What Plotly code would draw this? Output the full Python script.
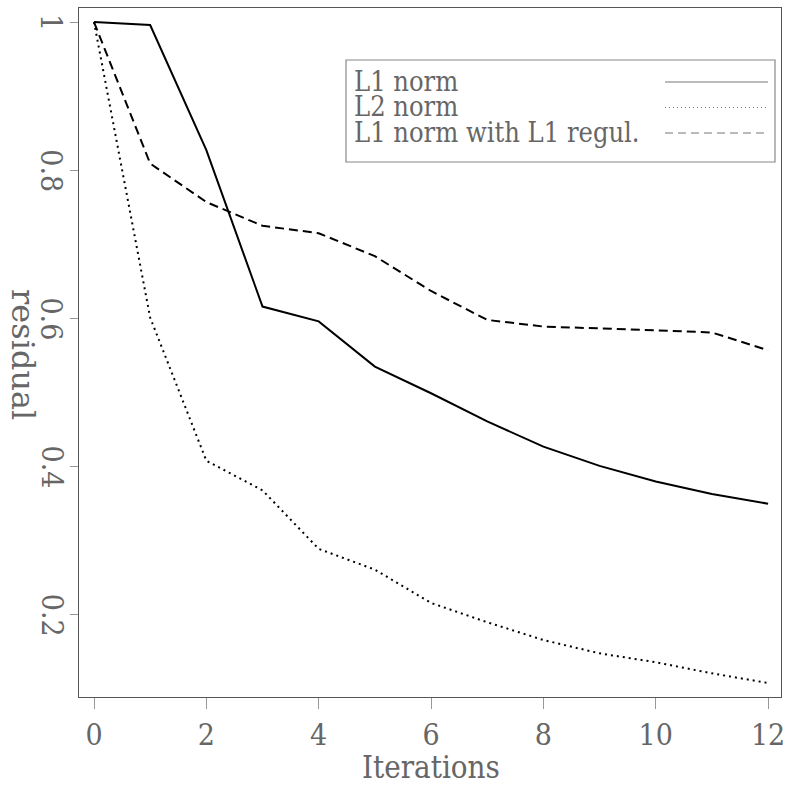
import plotly.graph_objects as go

# Residual per iteration for the three solvers
iterations = list(range(13))
l1_norm = [1.0, 0.996, 0.827, 0.616, 0.596, 0.535, 0.499, 0.461, 0.427, 0.401, 0.380, 0.363, 0.350]
l2_norm = [1.0, 0.601, 0.408, 0.368, 0.289, 0.261, 0.216, 0.190, 0.166, 0.148, 0.136, 0.121, 0.108]
l1_reg = [1.0, 0.809, 0.757, 0.725, 0.715, 0.684, 0.637, 0.598, 0.589, 0.587, 0.584, 0.581, 0.557]

series_names = ["L1 norm", "L2 norm", "L1 norm with L1 regul."]
series_dash = ["solid", "2px,4px", "9px,5px"]
key_dash = ["solid", "1px,3px", "8px,5px"]
x_ticks = [0, 2, 4, 6, 8, 10, 12]
y_ticks = [0.2, 0.4, 0.6, 0.8, 1.0]
y_tick_text = ["0.2", "0.4", "0.6", "0.8", "1"]

W, H = 790, 787
L, R, T, B = 79, 9, 8, 90
FONT = "DejaVu Serif Condensed, Liberation Serif, serif"
TXT = "#666666"


def px(x):
    return (x - L) / (W - L - R)


def py(y):
    return (H - B - y) / (H - T - B)


fig = go.Figure()
for name, vals, dash in zip(series_names, [l1_norm, l2_norm, l1_reg], series_dash):
    fig.add_trace(go.Scatter(x=iterations, y=vals, mode="lines", name=name,
                             line=dict(color="black", width=2, dash=dash),
                             showlegend=False))

# Hand-built key: text on the left, line sample on the right
shapes = [dict(type="rect", xref="paper", yref="paper",
               x0=px(346), x1=px(775), y0=py(162), y1=py(60),
               line=dict(color="#888888", width=1.2), fillcolor="white")]
annotations = []
for i, (name, dash) in enumerate(zip(series_names, key_dash)):
    yy = 82 + 25.5 * i
    shapes.append(dict(type="line", xref="paper", yref="paper",
                       x0=px(665), x1=px(768), y0=py(yy), y1=py(yy),
                       line=dict(color="#777777", width=1, dash=dash)))
    annotations.append(dict(text=name, xref="paper", yref="paper",
                            x=px(352), y=py(yy - 1), xanchor="left", yanchor="middle",
                            showarrow=False, font=dict(family=FONT, size=27, color=TXT)))

# Rotated y tick labels, placed at the tick values
for v, t in zip(y_ticks, y_tick_text):
    annotations.append(dict(text=t, xref="paper", yref="y", x=px(52), y=v,
                            xanchor="center", yanchor="middle", textangle=90,
                            showarrow=False, font=dict(family=FONT, size=30, color=TXT)))

annotations.append(dict(text="Iterations", xref="paper", yref="paper",
                        x=px(431), y=py(767), xanchor="center", yanchor="middle",
                        showarrow=False, font=dict(family=FONT, size=31, color=TXT)))
annotations.append(dict(text="residual", xref="paper", yref="paper",
                        x=px(23), y=py(354), xanchor="center", yanchor="middle",
                        textangle=90, showarrow=False,
                        font=dict(family="DejaVu Serif, Liberation Serif, serif",
                                  size=32, color=TXT)))

fig.update_layout(
    width=W, height=H,
    margin=dict(l=L, r=R, t=T, b=B, autoexpand=False),
    paper_bgcolor="white", plot_bgcolor="white",
    shapes=shapes, annotations=annotations,
    xaxis=dict(range=[-0.267, 12.23], tickvals=x_ticks, showgrid=False, zeroline=False,
               automargin=False,
               showline=True, mirror=True, linecolor="#555555", linewidth=1.2,
               ticks="outside", ticklen=11, tickcolor="#999999", tickwidth=1,
               tickfont=dict(family=FONT, size=30, color=TXT)),
    yaxis=dict(range=[0.0891, 1.0189], tickvals=y_ticks, showticklabels=False,
               showgrid=False, zeroline=False, automargin=False,
               showline=True, mirror=True, linecolor="#555555", linewidth=1.2,
               ticks="outside", ticklen=8, tickcolor="#999999", tickwidth=1),
)

fig.write_html("out.html")
